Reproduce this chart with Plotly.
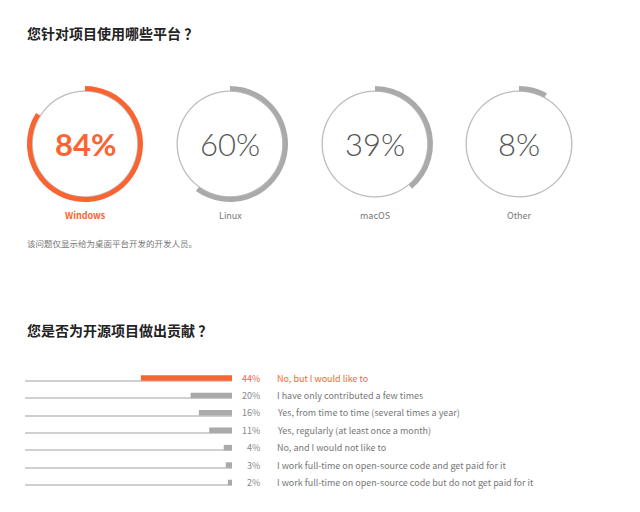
import plotly.graph_objects as go

# ---------------- data ----------------
platforms = ["Windows", "Linux", "macOS", "Other"]
platform_pct = [84, 60, 39, 8]

contrib_labels = [
    "No, but I would like to",
    "I have only contributed a few times",
    "Yes, from time to time (several times a year)",
    "Yes, regularly (at least once a month)",
    "No, and I would not like to",
    "I work full-time on open-source code and get paid for it",
    "I work full-time on open-source code but do not get paid for it",
]
contrib_pct = [44, 20, 16, 11, 4, 3, 2]

title1 = "您针对项目使用哪些平台 ？"
note1 = "该问题仅显示给为桌面平台开发的开发人员。"
title2 = "您是否为开源项目做出贡献 ？"

# ---------------- style ----------------
W, H = 640, 512
ORANGE = "#fa6432"
GRAY_ARC = "#aaaaaa"
THIN = "#bdbdbd"
CJK = "Noto Sans CJK SC"
BIG = "Lato"

centers_x = [85, 230, 375, 519]
cy = 144
r_out, r_in = 58, 53


def px_domain(cx, cy_, r):
    return dict(x=[(cx - r) / W, (cx + r) / W],
                y=[(H - cy_ - r) / H, (H - cy_ + r) / H])


fig = go.Figure()
annotations = []

for i, (name, v) in enumerate(zip(platforms, platform_pct)):
    cx = centers_x[i]
    hi = i == 0
    col = ORANGE if hi else GRAY_ARC
    # thin full circle
    fig.add_trace(go.Pie(values=[1], labels=[name + " ring"], hole=0.975,
                         domain=px_domain(cx, cy, r_in + 0.5), sort=False,
                         marker=dict(colors=[THIN], line=dict(width=0)),
                         textinfo="none", hoverinfo="skip", showlegend=False))
    # thick arc
    fig.add_trace(go.Pie(values=[v, 100 - v], labels=[name, name + " rest"],
                         hole=r_in / r_out, domain=px_domain(cx, cy, r_out),
                         sort=False, direction="clockwise", rotation=0,
                         marker=dict(colors=[col, "rgba(0,0,0,0)"], line=dict(width=0)),
                         textinfo="none", hoverinfo="label+value", showlegend=False))
    annotations.append(dict(x=cx / W, y=(H - cy) / H, xref="paper", yref="paper",
                            text=f"<b>{v}%</b>" if hi else f"{v}%", showarrow=False,
                            xanchor="center", yanchor="middle",
                            font=dict(family=BIG, size=31,
                                      color=ORANGE if hi else "#555555",
                                      weight=700 if hi else 300)))
    annotations.append(dict(x=cx / W, y=(H - 215) / H, xref="paper", yref="paper",
                            text=f"<b>{name}</b>" if hi else name, showarrow=False,
                            xanchor="center", yanchor="middle",
                            font=dict(family=CJK, size=9,
                                      color=ORANGE if hi else "#777777")))

# titles and note
annotations.append(dict(x=25 / W, y=(H - 33) / H, xref="paper", yref="paper",
                        text=f"<b>{title1}</b>", showarrow=False, xanchor="left",
                        yanchor="middle", font=dict(family=CJK, size=14, color="#222222")))
annotations.append(dict(x=25 / W, y=(H - 243) / H, xref="paper", yref="paper",
                        text=note1, showarrow=False, xanchor="left",
                        yanchor="middle", font=dict(family=CJK, size=8.5, color="#777777")))
annotations.append(dict(x=25 / W, y=(H - 330) / H, xref="paper", yref="paper",
                        text=f"<b>{title2}</b>", showarrow=False, xanchor="left",
                        yanchor="middle", font=dict(family=CJK, size=14, color="#222222")))

# ---------------- bars ----------------
n = len(contrib_labels)
ypos = list(range(n))
bar_w = 0.32

fig.add_trace(go.Bar(x=[100] * n, y=ypos, orientation="h", width=0.055,
                     offset=bar_w / 2 - 0.03, marker=dict(color="#d0d0d0", line=dict(width=0)),
                     hoverinfo="skip", showlegend=False, xaxis="x", yaxis="y"))
fig.add_trace(go.Bar(x=contrib_pct, y=ypos, orientation="h", width=bar_w,
                     offset=-bar_w / 2,
                     marker=dict(color=[ORANGE] + [GRAY_ARC] * (n - 1), line=dict(width=0)),
                     text=contrib_labels, hovertemplate="%{text}: %{x}%<extra></extra>",
                     textposition="none", showlegend=False, xaxis="x", yaxis="y"))

for i, (lab, v) in enumerate(zip(contrib_labels, contrib_pct)):
    c = ORANGE if i == 0 else "#888888"
    c2 = ORANGE if i == 0 else "#777777"
    annotations.append(dict(x=262 / W, y=i, xref="paper", yref="y", text=f"{v}%",
                            showarrow=False, xanchor="right", yanchor="middle",
                            font=dict(family=CJK, size=9, color=c)))
    annotations.append(dict(x=275 / W, y=i, xref="paper", yref="y", text=lab,
                            showarrow=False, xanchor="left", yanchor="middle",
                            font=dict(family=CJK, size=9, color=c2)))

# y axis: row 0 centre at 378 px, row 6 at 482.5 px
step = (482.5 - 378) / (n - 1)
y_top_px, y_bot_px = 360, 500
y0 = (y_top_px - 378) / step
y1 = (y_bot_px - 378) / step

fig.update_layout(
    width=W, height=H, margin=dict(l=0, r=0, t=0, b=0),
    paper_bgcolor="white", plot_bgcolor="white",
    barmode="overlay",
    xaxis=dict(domain=[25 / W, 232 / W], range=[100, 0], visible=False, fixedrange=True),
    yaxis=dict(domain=[(H - y_bot_px) / H, (H - y_top_px) / H], range=[y1, y0],
               visible=False, fixedrange=True),
    annotations=annotations,
    showlegend=False,
)

fig.write_html("out.html", config={"displayModeBar": False},
               post_script="document.body.style.margin='0';document.body.style.padding='0';")
